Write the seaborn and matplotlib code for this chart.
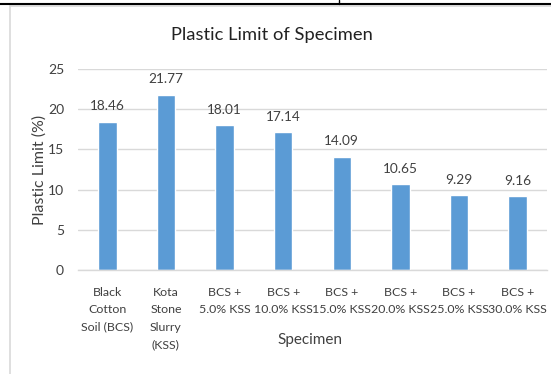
import matplotlib
matplotlib.use("Agg")
import matplotlib.pyplot as plt
from matplotlib.lines import Line2D
import seaborn as sns
import pandas as pd

specimens = [
    "Black\nCotton\nSoil (BCS)",
    "Kota\nStone\nSlurry\n(KSS)",
    "BCS +\n5.0% KSS",
    "BCS +\n10.0% KSS",
    "BCS +\n15.0% KSS",
    "BCS +\n20.0% KSS",
    "BCS +\n25.0% KSS",
    "BCS +\n30.0% KSS",
]
plastic_limit = [18.46, 21.77, 18.01, 17.14, 14.09, 10.65, 9.29, 9.16]
y_ticks = [0, 5, 10, 15, 20, 25]

sns.set_theme(style="white")
plt.rcParams["font.family"] = ["Lato", "DejaVu Sans"]

df = pd.DataFrame({"Specimen": specimens, "Plastic Limit (%)": plastic_limit})

fig = plt.figure(figsize=(5.51, 3.74), dpi=100)
L, R, T, B = 78, 547, 69, 270
ax = fig.add_axes([L / 551, 1 - B / 374, (R - L) / 551, (B - T) / 374])

sns.barplot(data=df, x="Specimen", y="Plastic Limit (%)", color="#5B9BD5",
            saturation=1, width=0.315, ax=ax)

text_col = "#404040"
for i, v in enumerate(plastic_limit):
    ax.text(i, v + 1.2, f"{v:.2f}", ha="center", va="bottom",
            fontsize=9.8, color=text_col)

ax.set_ylim(0, 25)
ax.set_yticks(y_ticks)
ax.yaxis.grid(True, color="#D9D9D9", linewidth=1)
ax.set_axisbelow(True)
for s in ["top", "right", "left"]:
    ax.spines[s].set_visible(False)
ax.spines["bottom"].set_color("#D9D9D9")
ax.spines["bottom"].set_linewidth(1)
ax.tick_params(axis="y", length=0, labelsize=10, colors=text_col, pad=10)
ax.tick_params(axis="x", length=0, labelsize=8.9, colors=text_col, pad=12)
for lbl in ax.get_xticklabels():
    lbl.set_linespacing(1.72)
    lbl.set_verticalalignment("top")

ax.set_xlabel("Specimen", fontsize=11, color=text_col)
ax.xaxis.set_label_coords((310 - L) / (R - L), -(333 - B) / (B - T))
ax.set_ylabel("Plastic Limit (%)", fontsize=11.5, color=text_col)
ax.yaxis.set_label_coords(-(L - 47) / (R - L), 0.5)

fig.text(272 / 551, 1 - 35 / 374, "Plastic Limit of Specimen", ha="center",
         va="center", fontsize=13.2, color="#222222")

# chart frame and page rule
fig.add_artist(Line2D([10 / 551, 10 / 551], [0, 1 - 6 / 374],
                      transform=fig.transFigure, color="#D9D9D9", lw=1.2))
fig.add_artist(Line2D([10 / 551, 1], [1 - 6 / 374, 1 - 6 / 374],
                      transform=fig.transFigure, color="#D9D9D9", lw=1.2))
fig.add_artist(Line2D([0, 1], [1 - 4 / 374, 1 - 4 / 374],
                      transform=fig.transFigure, color="black", lw=1.5))
fig.add_artist(Line2D([339 / 551, 339 / 551], [1 - 4 / 374, 1],
                      transform=fig.transFigure, color="black", lw=1))

fig.savefig("out.png", dpi=100)
